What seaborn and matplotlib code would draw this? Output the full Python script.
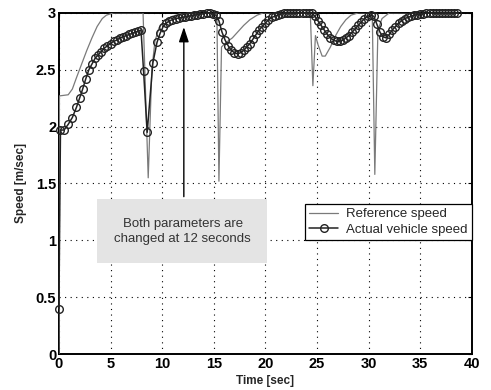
import matplotlib
matplotlib.use("Agg")
import matplotlib.pyplot as plt
import seaborn as sns
import pandas as pd

# Reference speed command [m/sec] over time [sec]
t_ref = [0.0, 0.05, 0.9, 1.3, 1.7, 2.2, 2.7, 3.2, 3.7, 4.2, 4.6, 5.3,
         8.15, 8.65, 9.0, 9.3, 9.7, 10.2, 11.0, 12.0,
         15.3, 15.5, 15.75, 16.2, 16.8, 17.4, 17.9, 18.5, 19.2, 19.8,
         24.35, 24.6, 24.85, 25.1, 25.5, 25.8, 26.3, 26.8, 27.3, 27.8, 28.3, 29.0,
         30.35, 30.6, 30.9, 31.3, 32.0, 38.6]
v_ref = [0.0, 2.27, 2.28, 2.33, 2.43, 2.55, 2.67, 2.78, 2.88, 2.95, 2.98, 3.0,
         3.0, 1.55, 2.5, 2.75, 2.87, 2.93, 2.97, 3.0,
         3.0, 1.52, 2.70, 2.74, 2.78, 2.84, 2.89, 2.94, 2.98, 3.0,
         3.0, 2.36, 2.80, 2.72, 2.62, 2.62, 2.70, 2.80, 2.88, 2.94, 2.98, 3.0,
         3.0, 1.58, 2.85, 2.95, 3.0, 3.0]

# Measured vehicle speed [m/sec]
t_act = [0.0, 0.15, 0.5, 0.9, 1.3, 1.7, 2.0, 2.3, 2.6, 2.9, 3.2, 3.5, 3.8, 4.1,
         4.4, 4.7, 5.0, 5.3, 5.6, 5.9, 6.2, 6.5, 6.8, 7.1, 7.4, 7.7, 7.95, 8.2,
         8.55, 9.1, 9.5, 9.8, 10.1, 10.4, 10.7, 11.0, 11.3, 11.6, 11.9, 12.2,
         12.5, 12.8, 13.1, 13.4, 13.7, 14.0, 14.3, 14.6, 14.9, 15.2, 15.5, 15.8,
         16.1, 16.4, 16.7, 17.0, 17.3, 17.6, 17.9, 18.2, 18.5, 18.8, 19.1, 19.4,
         19.7, 20.0, 20.3, 20.6, 20.9, 21.2, 21.5, 21.8, 22.1, 22.4, 22.7, 23.0,
         23.3, 23.6, 23.9, 24.2, 24.5, 24.8, 25.1, 25.4, 25.7, 26.0, 26.3, 26.6,
         26.9, 27.2, 27.5, 27.8, 28.1, 28.4, 28.7, 29.0, 29.3, 29.6, 29.9, 30.2,
         30.5, 30.8, 31.1, 31.4, 31.7, 32.0, 32.3, 32.6, 32.9, 33.2, 33.5, 33.8,
         34.1, 34.4, 34.7, 35.0, 35.3, 35.6, 35.9, 36.2, 36.5, 36.8, 37.1, 37.4,
         37.7, 38.0, 38.3, 38.6]
v_act = [0.40, 1.97, 1.97, 2.02, 2.08, 2.17, 2.25, 2.33, 2.42, 2.50, 2.55, 2.60,
         2.63, 2.66, 2.69, 2.71, 2.73, 2.75, 2.76, 2.78, 2.79, 2.80, 2.81, 2.82,
         2.83, 2.84, 2.85, 2.49, 1.95, 2.56, 2.74, 2.82, 2.88, 2.91, 2.93, 2.94,
         2.95, 2.955, 2.96, 2.965, 2.97, 2.975, 2.98, 2.985, 2.99, 2.99, 3.0, 3.0,
         2.99, 2.98, 2.93, 2.83, 2.76, 2.71, 2.67, 2.65, 2.64, 2.65, 2.67, 2.70,
         2.73, 2.77, 2.81, 2.85, 2.88, 2.91, 2.94, 2.96, 2.97, 2.98, 2.99, 3.0,
         3.0, 3.0, 3.0, 3.0, 3.0, 3.0, 3.0, 3.0, 3.0, 2.97, 2.93, 2.89, 2.85,
         2.81, 2.78, 2.76, 2.75, 2.75, 2.76, 2.78, 2.80, 2.83, 2.86, 2.89, 2.92,
         2.95, 2.97, 2.98, 2.97, 2.90, 2.83, 2.79, 2.78, 2.81, 2.85, 2.88, 2.91,
         2.93, 2.95, 2.96, 2.97, 2.98, 2.985, 2.99, 2.99, 3.0, 3.0, 3.0, 3.0, 3.0,
         3.0, 3.0, 3.0, 3.0, 3.0, 3.0]

x_ticks = [0, 5, 10, 15, 20, 25, 30, 35, 40]
y_ticks = [0, 0.5, 1, 1.5, 2, 2.5, 3]
y_tick_labels = ["0", "0.5", "1", "1.5", "2", "2.5", "3"]

sns.set_style("white")
plt.rcParams["font.family"] = ["Liberation Sans Narrow", "Liberation Sans", "DejaVu Sans"]

ref_df = pd.DataFrame({"t": t_ref, "v": v_ref})
act_df = pd.DataFrame({"t": t_act, "v": v_act})

fig = plt.figure(figsize=(4.91, 3.90), dpi=100)
ax = fig.add_axes([0.120, 0.092, 0.841, 0.875])

sns.lineplot(data=ref_df, x="t", y="v", ax=ax, estimator=None, sort=False,
             color="#7a7a7a", linewidth=0.9, label="Reference speed", zorder=3)
sns.lineplot(data=act_df, x="t", y="v", ax=ax, estimator=None, sort=False,
             color="#222222", linewidth=1.1, marker="o", markersize=5.5,
             markerfacecolor="none", markeredgecolor="#222222", markeredgewidth=1.0,
             label="Actual vehicle speed", zorder=4, clip_on=False)

ax.set_xlim(0, 40)
ax.set_ylim(0, 3)
ax.set_xticks(x_ticks)
ax.set_xticklabels([str(v) for v in x_ticks])
ax.set_yticks(y_ticks)
ax.set_yticklabels(y_tick_labels)
ax.tick_params(direction="in", length=3, width=0.8, labelsize=10.5, pad=2,
               top=True, right=True, colors="black")
for lab in ax.get_xticklabels() + ax.get_yticklabels():
    lab.set_fontweight("bold")

ax.grid(True, color="black", linestyle=(0, (1, 4)), linewidth=0.8)
for s in ax.spines.values():
    s.set_color("black")
    s.set_linewidth(1.4)

ax.set_xlabel("Time [sec]", fontsize=8.5, fontweight="bold", labelpad=3)
ax.set_ylabel("Speed [m/sec]", fontsize=8.5, fontweight="bold", labelpad=6)

# Annotation: parameter change at t = 12 s
ax.add_patch(plt.Rectangle((3.7, 0.80), 16.5, 0.56, facecolor="#e4e4e4",
                           edgecolor="none", zorder=5))
ax.text(12.0, 1.08, "Both parameters are\nchanged at 12 seconds",
        ha="center", va="center", fontsize=9.5, color="#333333",
        family=["Liberation Sans", "DejaVu Sans"], linespacing=1.3, zorder=6)
ax.annotate("", xy=(12.1, 2.9), xytext=(12.1, 1.36),
            arrowprops=dict(arrowstyle="-|>,head_length=0.9,head_width=0.3",
                            color="black", lw=1.0), zorder=6)

leg = ax.legend(loc="upper right", bbox_to_anchor=(1.0, 0.44), borderaxespad=0,
                fancybox=False, framealpha=1, edgecolor="black", fontsize=9.5,
                handlelength=2.2, borderpad=0.3, labelspacing=0.25, handletextpad=0.6)
leg.get_frame().set_linewidth(0.9)
leg.set_zorder(7)

fig.savefig("out.png", dpi=100)
